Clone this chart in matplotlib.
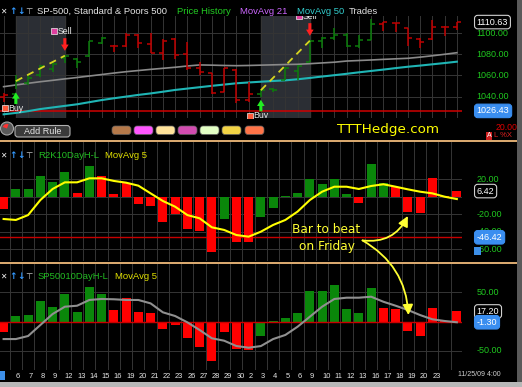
import numpy as np
import matplotlib
matplotlib.use('Agg')
import matplotlib.pyplot as plt
from matplotlib.patches import Rectangle, FancyBboxPatch, Circle, Wedge

plt.rcParams['font.family'] = ['Liberation Sans', 'DejaVu Sans']

# trading days, Oct 5 .. Nov 25 2009
days = [5, 6, 7, 8, 9, 12, 13, 14, 15, 16, 19, 20, 21, 22, 23, 26, 27, 28, 29, 30,
        2, 3, 4, 5, 6, 9, 10, 11, 12, 13, 16, 17, 18, 19, 20, 23, 24, 25]

# SP-500 price bars
opens = [1040, 1042, 1053, 1060, 1066, 1076.3, 1075.9, 1078.5, 1091, 1088,
         1088, 1098.4, 1090, 1081, 1095, 1080, 1067.5, 1062, 1044.5, 1065.2,
         1036.8, 1042, 1047, 1056, 1064, 1073, 1093, 1096, 1098, 1088.4,
         1093.6, 1108.5, 1109.4, 1105.3, 1094.4, 1094.4, 1105.7, 1105.7]
highs = [1043, 1060, 1060.5, 1070, 1073, 1079.4, 1076.6, 1092.7, 1096.8, 1089,
         1100, 1099, 1100, 1095, 1096, 1091.5, 1073, 1062, 1067.4, 1065.9,
         1054, 1046, 1048, 1068, 1070, 1093.6, 1096.8, 1104.7, 1100, 1098.4,
         1113.6, 1111, 1109.5, 1105.3, 1095.3, 1112.6, 1107, 1111]
lows = [1035, 1047, 1051, 1059, 1063.6, 1071.8, 1067, 1077.8, 1089.6, 1082,
        1086.7, 1086, 1081, 1074.7, 1075.6, 1065, 1060.5, 1042.5, 1044, 1033.6,
        1035, 1040, 1044, 1055.7, 1055.7, 1073, 1085.8, 1093.6, 1087.3, 1085.8,
        1093.6, 1102, 1101.5, 1088.3, 1086.4, 1093.6, 1097, 1103]
closes = [1041.5, 1054.7, 1058, 1069, 1071, 1078.8, 1073, 1092.7, 1096, 1088,
          1098.4, 1090.5, 1081.6, 1093, 1079.4, 1067.4, 1063.6, 1043, 1066.8, 1036.8,
          1042, 1046, 1046.5, 1067, 1069.3, 1093, 1096, 1098.4, 1087.5, 1093.6,
          1108.5, 1110.4, 1109.4, 1095.3, 1091.5, 1105.7, 1105.7, 1110.63]
price_colors = 'r' + 'g' * 8 + 'r' * 12 + 'g' * 10 + 'r' * 7
ma21 = [1049.4, 1051, 1052.6, 1054.1, 1055.4, 1056.8, 1058.1, 1059.5, 1060.9, 1062.3,
        1063.6, 1064.7, 1065.8, 1066.8, 1067.8, 1069, 1070, 1069.8, 1069.5, 1069.3,
        1069.5, 1069.8, 1070.1, 1070.4, 1070.6, 1071.2, 1071.9, 1072.6, 1073.7, 1074.2,
        1074.7, 1075.3, 1075.8, 1076.3, 1077.4, 1078.7, 1080.1, 1081.6]
ma50 = [1023.2, 1024.5, 1026.2, 1028.2, 1029.7, 1031.2, 1032.7, 1034.7, 1036.7, 1038.4,
        1040, 1041.6, 1043, 1044.6, 1046.3, 1047.6, 1048.9, 1050.2, 1051.4, 1052.6,
        1053.4, 1054.1, 1054.8, 1055.4, 1056.4, 1057.7, 1059, 1060.3, 1061.6, 1063,
        1064.3, 1065.6, 1067, 1068.3, 1069.4, 1070.6, 1071.8, 1073.1]
price_level = 1026.43
price_ticks = [1040, 1060, 1080, 1100]

# trades (bar index of entry / exit)
buys = [1, 21]
sells = [5, 25]

# R2K 10 day high-low
r2k = [-14, 8.4, 8.4, 24, 17, 28, 4.6, 35, 23.6, 3,
       15.3, -8.4, -10.3, -29.3, -19.8, -37, -38.8, -63.6, -25.5, -52,
       -51.4, -23.6, -12.6, 0.5, 4.6, 20, 14, 20, 2.7, -6.9,
       37.4, 15.3, 11.4, -17, -19, 21, 0.3, 6.42]
r2k_colors = 'rggggg' + 'rg' + 'r' * 10 + 'g' + 'rr' + 'g' * 8 + 'r' + 'gg' + 'r' * 6
r2k_ma = [-25.5, -26.6, -21, -3.8, 8.8, 16.4, 16.4, 21, 21, 18,
          16, 12.6, 3.8, -4.9, -11.4, -21, -24.7, -35, -38, -43.8,
          -45.7, -40, -32.3, -26.6, -17, -3.8, 5.7, 11.4, 11.4, 8.8,
          12.2, 14.2, 11.4, 8.4, 5.7, 3.8, 0, -2.7]
r2k_level = -46.42
r2k_grid = [20, 0, -20, -40, -60]
r2k_ticks = [20, -20, -40, -60]

# SP500 10 day high-low
sp = [-18.5, 10, 11, 35.6, 25.3, 46.5, 15.7, 59.5, 47, 19.7,
      40.7, 15.7, 15.1, -12.8, -6, -27.7, -44, -67, -18.5, -47,
      -48.7, -24.8, 1.5, 5.5, 15, 52, 52, 62.4, 20.8, 15,
      56.7, 22.5, 21.7, -15.7, -24.8, 22.5, 0.3, 17.2]
sp_colors = price_colors
sp_ma = [-30, -30, -24.8, -6, 12.8, 25.3, 27, 36.8, 38.5, 38,
         36.8, 36.8, 31, 15.7, 9.4, -1.4, -14.5, -28.7, -32.8, -41.9,
         -44.8, -42, -30, -23, -8.9, 8.2, 25.3, 38.5, 40.7, 40.7,
         42.4, 33.8, 27, 19.7, 11, 3.8, 0.9, -1.3]
sp_ticks = [50, -50]

W, H = 522, 387
fig = plt.figure(figsize=(W / 100, H / 100), dpi=100, facecolor='black')
x = np.arange(len(days))
GRID = '#353535'
RED, GREEN = '#ff0000', '#0a870a'
LBL = '#1fc71f'


def panel(top, bottom, right=462):
    ax = fig.add_axes([0, 1 - bottom / H, right / W, (bottom - top) / H])
    ax.set_facecolor('black')
    for s in ax.spines.values():
        s.set_visible(False)
    ax.set_xticks([])
    ax.set_yticks([])
    ax.set_xlim(-0.294, 37.42)
    return ax


def right_labels(ax, ticks, box_vals):
    tr = ax.get_yaxis_transform()
    for t in ticks:
        ax.text(1.032, t, '%.2f' % t, color=LBL, fontsize=6.5, ha='left', va='center',
                transform=tr, clip_on=False)
    for v, fc, ec in box_vals:
        ax.text(1.032, v, '%.2f' % v, color='white', fontsize=6.5, ha='left', va='center',
                transform=tr, clip_on=False, zorder=10,
                bbox=dict(boxstyle='round,pad=0.25,rounding_size=0.35', fc=fc, ec=ec, lw=0.8))


# ---- price panel
ax1 = panel(16, 118)
ax1.set_ylim(1019.7, 1116.4)
for v in price_ticks:
    ax1.axhline(v, color=GRID, lw=0.7, zorder=1)
for i in x:
    ax1.axvline(i, color=GRID, lw=0.7, zorder=1)
for b, s in zip(buys, sells):
    ax1.axvspan(b, s, color='#2b2e34', zorder=0.5)
ax1.axhline(price_level, color='#d00000', lw=1.1, zorder=2)
ax1.plot(x, ma21, color='#8a8a8a', lw=1.2, zorder=2)
ax1.plot(x, ma50, color='#1fb5b5', lw=1.5, zorder=2)
pc = ['#0b7d0b' if c == 'g' else '#c00000' for c in price_colors]
ax1.vlines(x, lows, highs, colors=pc, lw=1.1, zorder=3)
ax1.hlines(opens, x - 0.33, x, colors=pc, lw=1.1, zorder=3)
ax1.hlines(closes, x, x + 0.33, colors=pc, lw=1.1, zorder=3)
for b, s in zip(buys, sells):
    ax1.plot([b, s], [closes[b], closes[s]], color='#d6d620', lw=1.3,
             ls=(0, (4, 3)), zorder=4)
    tip = lows[b] - 3
    ax1.annotate('', xy=(b, tip), xytext=(b, tip - 11),
                 arrowprops=dict(arrowstyle='simple,head_length=0.45,head_width=0.55,tail_width=0.22',
                                 fc='#22ee22', ec='none', shrinkA=0, shrinkB=0), zorder=5)
    ax1.plot(b - 0.9, tip - 15, 's', ms=3.8, mfc='#ff5a3a', mec='#f0f0f0', mew=0.5, zorder=5)
    ax1.text(b - 0.6, tip - 15, 'Buy', color='#e8e8e8', fontsize=6.3, va='center',
             ha='left', zorder=5, clip_on=True)
    tip = highs[s] + 4
    ax1.annotate('', xy=(s, tip), xytext=(s, tip + 12),
                 arrowprops=dict(arrowstyle='simple,head_length=0.45,head_width=0.55,tail_width=0.22',
                                 fc='#ff2020', ec='none', shrinkA=0, shrinkB=0), zorder=5)
    ax1.plot(s - 0.9, tip + 18.5, 's', ms=3.8, mfc='#e040a0', mec='#f0f0f0', mew=0.5, zorder=5,
             clip_on=True)
    ax1.text(s - 0.6, tip + 18.5, 'Sell', color='#e8e8e8', fontsize=6.3, va='center',
             ha='left', zorder=5, clip_on=True)
right_labels(ax1, price_ticks, [(closes[-1], 'black', '#d0d0d0'),
                                (price_level, '#3a8ef0', '#3a8ef0')])

# ---- R2K panel
ax2 = panel(142, 261)
ax2.set_ylim(-73.5, 62.5)
for v in r2k_grid:
    ax2.axhline(v, color=GRID, lw=0.7, zorder=1)
for i in x:
    ax2.axvline(i + 0.5, color=GRID, lw=0.7, zorder=1)
ax2.bar(x, r2k, width=0.73, color=[GREEN if c == 'g' else RED for c in r2k_colors], zorder=3)
ax2.axhline(r2k_level, color='#c80000', lw=1.0, zorder=2)
ax2.plot(x, r2k_ma, color='#ffff00', lw=1.5, zorder=4)
right_labels(ax2, r2k_ticks, [(r2k[-1], 'black', '#d0d0d0'),
                              (r2k_level, '#3a8ef0', '#3a8ef0')])

# ---- SP500 panel
ax3 = panel(264, 370)
ax3.set_ylim(-82.9, 98.3)
for v in sp_ticks:
    ax3.axhline(v, color=GRID, lw=0.7, zorder=1)
for i in x:
    ax3.axvline(i + 0.5, color=GRID, lw=0.7, zorder=1)
ax3.bar(x, sp, width=0.73, color=[GREEN if c == 'g' else RED for c in sp_colors], zorder=3)
ax3.axhline(0, color='#c80000', lw=1.0, zorder=3.5)
ax3.plot(x, sp_ma, color='#909090', lw=1.5, zorder=4)
right_labels(ax3, sp_ticks, [(sp[-1], 'black', '#d0d0d0'),
                             (sp_ma[-1], '#3a8ef0', '#3a8ef0')])
ax3.set_xticks(x[1:36])
ax3.set_xticklabels([str(d) for d in days[1:36]], ha='left')
ax3.tick_params(axis='x', length=0, pad=2, labelsize=5.4, labelcolor='#e8e8e8')

# ---- overlay: titles, separators, buttons, notes
ov = fig.add_axes([0, 0, 1, 1])
ov.set_xlim(0, W)
ov.set_ylim(H, 0)
ov.axis('off')
ov.patch.set_alpha(0)

for yy in (139.5, 261.5):
    ov.add_patch(Rectangle((0, yy), 517, 2.5, color='#d9a86e', lw=0))
ov.add_patch(Rectangle((517, 0), 5, H, color='#5a5a5a', lw=0))
ov.add_patch(Rectangle((0, 382), W, 5, color='#b8b8b8', lw=0))


def title_row(y, items):
    ov.text(0.5, y, '✕', color='#f0f0f0', fontsize=5.5, va='center', family='DejaVu Sans')
    ov.text(9, y, '↑', color='#3399ff', fontsize=6.5, va='center', weight='bold', family='DejaVu Sans')
    ov.text(17, y, '↓', color='#3399ff', fontsize=6.5, va='center', weight='bold', family='DejaVu Sans')
    ov.text(25.5, y, '⊤', color='#d0d0d0', fontsize=6, va='center', family='DejaVu Sans')
    for xx, s, c in items:
        ov.text(xx, y, s, color=c, fontsize=6.8, va='center')


title_row(11, [(37, 'SP-500, Standard & Poors 500', '#e6e6e6'),
               (177, 'Price History', '#22cc22'),
               (240, 'MovAvg 21', '#cc66ff'),
               (297, 'MovAvg 50', '#33cccc'),
               (349, 'Trades', '#e0e0e0')])
title_row(155.5, [(38, 'R2K10DayH-L', '#22bb22'), (105, 'MovAvg 5', '#e0e000')])
title_row(276.5, [(38, 'SP50010DayH-L', '#22bb22'), (115, 'MovAvg 5', '#e0e000')])

# button bar
ov.add_patch(Circle((7, 128.5), 6.5, fc='#5a5a5a', ec='#a8a8a8', lw=0.8))
ov.add_patch(Wedge((7, 128.5), 4.5, 200, 290, fc='#ff3030', lw=0))
ov.add_patch(FancyBboxPatch((15, 125.5), 55, 11.5, boxstyle='round,pad=0,rounding_size=3',
                            fc='#3a3a3a', ec='#b0b0b0', lw=0.8))
ov.text(42.5, 131.3, 'Add Rule', color='#e6e6e6', fontsize=6.5, ha='center', va='center')
pill_x = [112, 134, 156, 178, 200, 222, 245]
pill_c = ['#b5794a', '#ff55ff', '#ffe39a', '#d24cb0', '#e2ffc4', '#f2d445', '#ff7448']
for px_, c in zip(pill_x, pill_c):
    ov.add_patch(FancyBboxPatch((px_, 126), 19, 8.5, boxstyle='round,pad=0,rounding_size=3',
                                fc=c, ec='#606060', lw=0.5))
ov.text(388, 129.5, 'TTTHedge.com', color='#ffff00', fontsize=9.7, ha='center', va='center',
        family='DejaVu Sans')
ov.text(507, 127.5, '20.00', color='#e00000', fontsize=6.3, ha='center', va='center')
ov.text(489, 135.8, 'A', color='white', fontsize=5, ha='center', va='center',
        bbox=dict(boxstyle='square,pad=0.1', fc='#d02020', ec='none'))
ov.text(494, 135.8, 'L %X', color='#e02020', fontsize=5.5, ha='left', va='center')
ov.add_patch(Rectangle((474, 247), 7, 8, color='#3d8fe8', lw=0))
ov.add_patch(Rectangle((0, 371), 5, 9, color='#3d8fe8', lw=0))
ov.text(479, 375, '11/25/09 4:00', color='#d0d0d0', fontsize=5, ha='center', va='center')

# note with arrows to the bars
ov.text(26.36, -47.2, 'Bar to beat\non Friday', transform=ax2.transData, color='#ffff33',
        fontsize=8.7, ha='center', va='center', linespacing=1.45, family='DejaVu Sans')
ov.annotate('', xy=(33, r2k[33] - 5), xycoords=ax2.transData,
            xytext=(29.3, -50), textcoords=ax2.transData,
            arrowprops=dict(arrowstyle='-|>,head_length=0.6,head_width=0.3', color='#ffff33',
                            lw=1.3, connectionstyle='arc3,rad=0.35', shrinkA=0, shrinkB=0))
ov.annotate('', xy=(33.05, 11), xycoords=ax3.transData,
            xytext=(29.3, -50), textcoords=ax2.transData,
            arrowprops=dict(arrowstyle='-|>,head_length=0.6,head_width=0.3', color='#ffff33',
                            lw=1.3, connectionstyle='arc3,rad=-0.27', shrinkA=0, shrinkB=0))

fig.savefig('out.png', dpi=100, facecolor='black')
